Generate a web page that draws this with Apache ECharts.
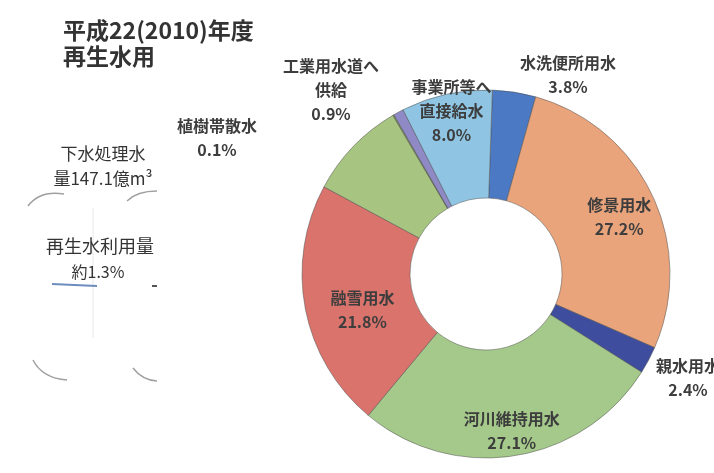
<!DOCTYPE html>
<html>
<head>
<meta charset="utf-8">
<script src="https://cdn.jsdelivr.net/npm/echarts@6/dist/echarts.min.js"></script>
<style>
  html, body { margin: 0; padding: 0; background: #fff; }
  #chart { width: 714px; height: 473px; }
</style>
</head>
<body>
<div id="chart"></div>
<script>
  // 再生水の用途別割合 (%)
  const categories = [
    '水洗便所用水', '修景用水', '親水用水', '河川維持用水', '融雪用水',
    '農業用水', '植樹帯散水', '工業用水道へ\n供給', '事業所等へ\n直接給水'
  ]
  const shares = [3.8, 27.2, 2.4, 27.1, 21.8, 8.7, 0.1, 0.9, 8.0]
  const colors = ['#4b79c3', '#e9a47c', '#3e4d9d', '#a4c98b', '#d9736c',
    '#a7c581', '#7f9f5c', '#8f8ac6', '#8fc4e3']

  // ラベルの置き場所 (外側のものは固定座標, 内側のものはずらし量)
  const labelFixed = {
    0: [568, 75],
    2: [688, 378],
    6: [217, 138],
    7: [331, 90]
  }
  const labelShift = {
    1: [13, 0],
    3: [5, 26],
    4: [7, 11],
    8: [-6, -33]
  }

  const chart = echarts.init(document.getElementById('chart'))

  const labelFont = {
    fontFamily: 'Noto Sans CJK JP',
    fontSize: 16,
    fontWeight: 'bold',
    color: '#3d3d3d',
    lineHeight: 24
  }

  chart.setOption({
    backgroundColor: '#fff',
    animation: false,
    title: {
      text: '平成22(2010)年度\n再生水用',
      left: 63,
      top: 17,
      padding: 0,
      textStyle: {
        fontFamily: 'Noto Sans CJK JP',
        fontSize: 23,
        fontWeight: 'bold',
        color: '#333',
        lineHeight: 26
      }
    },
    graphic: [
      // 左側のうすい図
      {type: 'bezierCurve', shape: {x1: 28, y1: 206, cpx1: 40, cpy1: 190, x2: 64, y2: 194},
        style: {stroke: '#a0a0a0', lineWidth: 1.5, fill: null}},
      {type: 'bezierCurve', shape: {x1: 127, y1: 201, cpx1: 137, cpy1: 191, x2: 157, y2: 191},
        style: {stroke: '#a0a0a0', lineWidth: 1.5, fill: null}},
      {type: 'bezierCurve', shape: {x1: 33, y1: 360, cpx1: 42, cpy1: 378, x2: 67, y2: 380},
        style: {stroke: '#a0a0a0', lineWidth: 1.5, fill: null}},
      {type: 'bezierCurve', shape: {x1: 133, y1: 368, cpx1: 142, cpy1: 380, x2: 157, y2: 381},
        style: {stroke: '#a0a0a0', lineWidth: 1.5, fill: null}},
      {type: 'line', shape: {x1: 93, y1: 208, x2: 93, y2: 338},
        style: {stroke: '#f4f4f4', lineWidth: 2}},
      {type: 'line', shape: {x1: 52, y1: 284, x2: 97, y2: 286},
        style: {stroke: '#6d8cbf', lineWidth: 2}},
      {type: 'line', shape: {x1: 152, y1: 286, x2: 157, y2: 286},
        style: {stroke: '#555', lineWidth: 2}},
      {type: 'text', x: 103, y: 154, style: {text: '下水処理水', textAlign: 'center', textVerticalAlign: 'middle',
        font: '17px "Noto Sans CJK JP"', fill: '#333'}},
      {type: 'text', x: 103, y: 179, style: {text: '量147.1億m³', textAlign: 'center', textVerticalAlign: 'middle',
        font: '17px "Noto Sans CJK JP"', fill: '#333'}},
      {type: 'text', x: 100, y: 246, style: {text: '再生水利用量', textAlign: 'center', textVerticalAlign: 'middle',
        font: '18px "Noto Sans CJK JP"', fill: '#333'}},
      {type: 'text', x: 98, y: 272, style: {text: '約1.3%', textAlign: 'center', textVerticalAlign: 'middle',
        font: '16px "Noto Sans CJK JP"', fill: '#333'}}
    ],
    series: [{
      type: 'pie',
      center: [486, 274],
      radius: [76, 184],
      startAngle: 88,
      clockwise: true,
      avoidLabelOverlap: false,
      minAngle: 0,
      itemStyle: {
        borderColor: 'rgba(80,80,80,0.5)',
        borderWidth: 1
      },
      label: Object.assign({
        position: 'inside',
        formatter: p => p.name + '\n' + p.value.toFixed(1) + '%'
      }, labelFont),
      labelLine: {show: false},
      labelLayout: params => {
        const i = params.dataIndex
        if (labelFixed[i]) {
          return {x: labelFixed[i][0], y: labelFixed[i][1], align: 'center', verticalAlign: 'middle'}
        }
        if (labelShift[i]) {
          return {dx: labelShift[i][0], dy: labelShift[i][1]}
        }
        return {}
      },
      data: categories.map((name, i) => ({
        name: name,
        value: shares[i],
        itemStyle: {color: colors[i]},
        label: i === 5 ? {show: false} : (labelFixed[i] ? {position: 'outside'} : {})
      }))
    }]
  })
</script>
</body>
</html>
